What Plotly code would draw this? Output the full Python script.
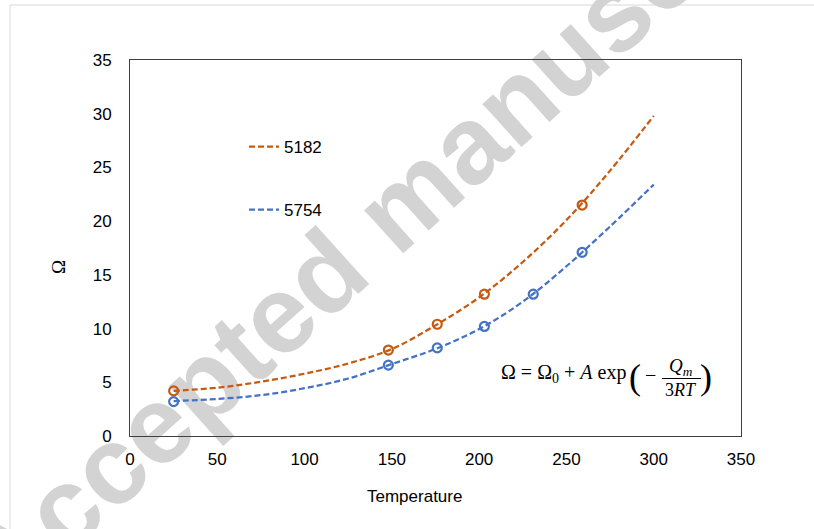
import plotly.graph_objects as go

# ---------------- data ----------------
temp_5182 = [25, 148, 176, 203, 259]
omega_5182 = [4.2, 8.0, 10.4, 13.2, 21.5]
temp_5754 = [25, 148, 176, 203, 231, 259]
omega_5754 = [3.2, 6.6, 8.2, 10.2, 13.2, 17.1]

fit_temp = [25, 50, 75, 100, 125, 150, 175, 200, 225, 250, 275, 300]
fit_5182 = [4.2, 4.5, 5.05, 5.8, 6.75, 8.1, 10.3, 12.9, 16.2, 20.1, 24.7, 29.8]
fit_5754 = [3.25, 3.45, 3.8, 4.45, 5.35, 6.7, 8.1, 9.95, 12.5, 15.8, 19.5, 23.4]

series_names = ["5182", "5754"]
x_ticks = [0, 50, 100, 150, 200, 250, 300, 350]
y_ticks = [0, 5, 10, 15, 20, 25, 30, 35]
x_title = "Temperature"
y_title = "Ω"
watermark = "Accepted manuscript"

ORANGE = "#C55A11"
BLUE = "#4472C4"

# ---------------- layout geometry ----------------
W, H = 814, 529
L, R, T, B = 130, 741, 60, 436


def px(x):
    return (x - L) / (R - L)


def py(y):
    return (B - y) / (B - T)


fig = go.Figure()

# fitted (dashed) curves -> legend entries
fig.add_trace(go.Scatter(x=fit_temp, y=fit_5182, mode="lines", name=series_names[0],
                         line=dict(color=ORANGE, width=2.25, dash="6px,3px", shape="spline"),
                         legend="legend"))
fig.add_trace(go.Scatter(x=fit_temp, y=fit_5754, mode="lines", name=series_names[1],
                         line=dict(color=BLUE, width=2.25, dash="6px,3px", shape="spline"),
                         legend="legend2"))
# measured points
fig.add_trace(go.Scatter(x=temp_5182, y=omega_5182, mode="markers", showlegend=False,
                         marker=dict(symbol="circle-open", size=9, color=ORANGE,
                                     line=dict(width=2.2, color=ORANGE))))
fig.add_trace(go.Scatter(x=temp_5754, y=omega_5754, mode="markers", showlegend=False,
                         marker=dict(symbol="circle-open", size=9, color=BLUE,
                                     line=dict(width=2.2, color=BLUE))))

font_main = dict(family="Liberation Sans, Arial, sans-serif", size=17, color="#000000")
math_font = "Liberation Serif, Times New Roman, serif"

shapes = [
    # outer light frame
    dict(type="rect", xref="paper", yref="paper", x0=px(10), x1=px(830), y0=py(545), y1=py(5),
         line=dict(color="#d9d9d9", width=1), fillcolor="rgba(0,0,0,0)", layer="below"),
    # watermark (below traces)
    dict(type="rect", xref="paper", yref="paper", x0=px(385), x1=px(395), y0=py(205), y1=py(195),
         line=dict(width=0), fillcolor="rgba(0,0,0,0)", layer="below",
         label=dict(text=watermark, textangle=-42, textposition="middle center",
                    font=dict(family="Liberation Sans, Arial, sans-serif", size=110,
                              color="#d3d3d3", weight="bold"))),
    # fraction bar of the equation
    dict(type="line", xref="paper", yref="paper", x0=px(662), x1=px(701), y0=py(378.5), y1=py(378.5),
         line=dict(color="#000000", width=1.2)),
]

annotations = [
    dict(text=x_title, xref="paper", yref="paper", x=px(414.5), y=py(497), xanchor="center",
         yanchor="middle", showarrow=False, font=font_main),
    dict(text=y_title, xref="paper", yref="paper", x=px(58), y=py(267), xanchor="center",
         yanchor="middle", showarrow=False, textangle=-90,
         font=dict(family="Liberation Serif, serif", size=19, color="#000000")),
    # equation pieces
    dict(text="Ω = Ω<sub>0</sub> + <i>A</i> exp", xref="paper", yref="paper", x=px(628), y=py(373),
         xanchor="right", yanchor="middle", showarrow=False,
         font=dict(family=math_font, size=20, color="#000000")),
    dict(text="(", xref="paper", yref="paper", x=px(635), y=py(377), xanchor="center",
         yanchor="middle", showarrow=False, font=dict(family=math_font, size=36, color="#000000")),
    dict(text="−", xref="paper", yref="paper", x=px(650), y=py(375), xanchor="center",
         yanchor="middle", showarrow=False, font=dict(family=math_font, size=20, color="#000000")),
    dict(text="<i>Q<sub>m</sub></i>", xref="paper", yref="paper", x=px(681), y=py(367),
         xanchor="center", yanchor="middle", showarrow=False,
         font=dict(family=math_font, size=19, color="#000000")),
    dict(text="3<i>RT</i>", xref="paper", yref="paper", x=px(681), y=py(390), xanchor="center",
         yanchor="middle", showarrow=False, font=dict(family=math_font, size=18, color="#000000")),
    dict(text=")", xref="paper", yref="paper", x=px(706), y=py(377), xanchor="center",
         yanchor="middle", showarrow=False, font=dict(family=math_font, size=36, color="#000000")),
]

axis_common = dict(showgrid=False, zeroline=False, showline=True, mirror=True,
                   linecolor="#404040", linewidth=1, ticks="", tickfont=font_main)

fig.update_layout(
    width=W, height=H,
    margin=dict(l=L, r=W - R, t=T, b=H - B, pad=0),
    paper_bgcolor="white", plot_bgcolor="rgba(0,0,0,0)",
    xaxis=dict(range=[0, 350], tickvals=x_ticks, ticktext=[str(v) for v in x_ticks],
               ticklabelstandoff=8, **axis_common),
    yaxis=dict(range=[0, 35], tickvals=y_ticks, ticktext=[str(v) for v in y_ticks],
               ticklabelstandoff=14, **axis_common),
    legend=dict(x=px(244), y=py(147), xanchor="left", yanchor="middle",
                bgcolor="rgba(0,0,0,0)", font=font_main),
    legend2=dict(x=px(244), y=py(210), xanchor="left", yanchor="middle",
                 bgcolor="rgba(0,0,0,0)", font=font_main),
    shapes=shapes,
    annotations=annotations,
)

fig.write_html("out.html")
